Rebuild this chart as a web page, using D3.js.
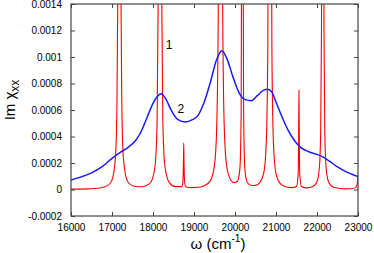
<!DOCTYPE html>
<html>
<head>
<meta charset="utf-8">
<script src="https://cdn.jsdelivr.net/npm/d3@7"></script>
<style>
  body { margin: 0; background: #fff; }
  text { font-family: "Liberation Sans", Arial, sans-serif; }
</style>
</head>
<body>
<script>

// curve 1 (red): sharp lines, [omega, Im chi]
const redX = [16000, 16400, 16700, 16900, 17000, 17080, 17120, 17140, 17160, 17180, 17200, 17220, 17240, 17280, 17380, 17500, 17650, 17800, 17950,
  18050, 18100, 18130, 18150, 18170, 18190, 18210, 18240, 18290, 18400, 18550, 18700, 18730, 18745, 18750, 18755, 18770, 18800, 18950,
  19100, 19250, 19400, 19500, 19550, 19590, 19610, 19646, 19680, 19700, 19740, 19800, 19900, 19980, 20060, 20120, 20150, 20165, 20180,
  20195, 20210, 20240, 20300, 20400, 20500, 20600, 20700, 20760, 20800, 20820, 20850, 20880, 20900, 20940, 21000, 21100, 21250, 21400,
  21500, 21540, 21550, 21560, 21570, 21580, 21620, 21750, 21900, 22000, 22060, 22090, 22110, 22125, 22140, 22155, 22170, 22190, 22220,
  22280, 22400, 22550, 22700, 22850, 22940, 22980, 23000];
const redY = [0.000003, 0.000005, 0.000011, 0.000031, 0.000071, 0.000226, 0.00062, 0.0014, 0.0056, 0.03, 0.0056, 0.0014, 0.00062, 0.000228, 0.00006, 0.000029, 0.000021, 0.000025, 0.000057,
  0.000177, 0.00051, 0.00156, 0.00625, 0.03, 0.00625, 0.00156, 0.00051, 0.000177, 0.00005, 0.000022, 0.000022, 0.000058, 0.00025, 0.00035, 0.00024, 0.00006, 0.000021, 0.000014,
  0.000017, 0.000029, 0.000067, 0.000186, 0.00043, 0.00125, 0.003, 0.03, 0.0034, 0.00134, 0.00045, 0.00017, 0.00007, 0.000051, 0.000062, 0.000161, 0.00058, 0.0022, 0.02,
  0.0022, 0.00058, 0.000157, 0.000053, 0.00003, 0.000031, 0.00005, 0.000123, 0.00033, 0.00105, 0.0029, 0.03, 0.0029, 0.00105, 0.00033, 0.000119, 0.000046, 0.000019, 0.000014,
  0.000023, 0.000115, 0.00031, 0.00075, 0.00031, 0.000115, 0.000023, 0.000012, 0.000022, 0.000058, 0.000175, 0.00044, 0.00122, 0.0049, 0.02, 0.0049, 0.00122, 0.00044, 0.000175,
  0.000058, 0.000017, 0.000008, 0.000005, 0.000006, 0.000014, 0.000041, 0.00011];

// curve 2 (blue): broad bands
const blueX = [16000, 16250, 16500, 16750, 17000, 17200, 17400, 17550, 17700, 17850, 18000, 18100, 18200, 18300, 18450, 18600, 18800, 18950,
  19100, 19250, 19400, 19550, 19680, 19800, 19950, 20100, 20250, 20400, 20550, 20700, 20800, 20900, 21000, 21150, 21300, 21450, 21600,
  21800, 22000, 22150, 22300, 22500, 22700, 22850, 23000];
const blueY = [0.000072, 0.000095, 0.000125, 0.00017, 0.000235, 0.00028, 0.00032, 0.00036, 0.00043, 0.00054, 0.00065, 0.0007, 0.000722, 0.00069, 0.000595, 0.00053, 0.00051, 0.000525,
  0.00056, 0.00066, 0.00081, 0.00098, 0.001048, 0.00099, 0.00085, 0.00073, 0.000678, 0.00067, 0.00071, 0.00075, 0.000757, 0.000735, 0.00066, 0.000545, 0.000445, 0.00037, 0.000318,
  0.000285, 0.000265, 0.000245, 0.000215, 0.00017, 0.000135, 0.000115, 0.000097];

const xTicks = [16000, 17000, 18000, 19000, 20000, 21000, 22000, 23000];
const yTicks = [-0.0002, 0, 0.0002, 0.0004, 0.0006, 0.0008, 0.001, 0.0012, 0.0014];
const yTickLabels = ['-0.0002', '0', '0.0002', '0.0004', '0.0006', '0.0008', '0.001', '0.0012', '0.0014'];

const W = 374, H = 253;
const margin = {top: 4, right: 16, bottom: 37, left: 71};
const width = W - margin.left - margin.right;
const height = H - margin.top - margin.bottom;

const svg = d3.select('body').append('svg')
  .attr('width', W)
  .attr('height', H);

const x = d3.scaleLinear().domain([16000, 23000]).range([0, width]);
const y = d3.scaleLinear().domain([-0.0002, 0.0014]).range([height, 0]);

const g = svg.append('g')
  .attr('transform', 'translate(' + margin.left + ',' + margin.top + ')');

svg.append('defs').append('clipPath').attr('id', 'clip')
  .append('rect').attr('width', width).attr('height', height);

const line = d3.line()
  .x(d => x(d[0]))
  .y(d => y(d[1]))
  .curve(d3.curveMonotoneX);

const plot = g.append('g').attr('clip-path', 'url(#clip)');

plot.append('path')
  .datum(d3.zip(redX, redY))
  .attr('fill', 'none')
  .attr('stroke', '#ff0000')
  .attr('stroke-width', 1.1)
  .attr('d', line);

plot.append('path')
  .datum(d3.zip(blueX, blueY))
  .attr('fill', 'none')
  .attr('stroke', '#1a1aff')
  .attr('stroke-width', 1.5)
  .attr('d', line);

// axes, ticks pointing inward on all four sides
const tickLen = 4;
const axisColor = '#444';

g.append('g')
  .attr('transform', 'translate(0,' + height + ')')
  .call(d3.axisBottom(x).tickValues(xTicks).tickSize(-tickLen).tickPadding(8).tickFormat(d3.format('d')))
  .call(a => a.select('.domain').remove());

g.append('g')
  .call(d3.axisTop(x).tickValues(xTicks).tickSize(-tickLen).tickFormat(''))
  .call(a => a.select('.domain').remove());

g.append('g')
  .call(d3.axisLeft(y).tickValues(yTicks).tickSize(-tickLen).tickPadding(9)
    .tickFormat((d, i) => yTickLabels[i]))
  .call(a => a.select('.domain').remove());

g.append('g')
  .attr('transform', 'translate(' + width + ',0)')
  .call(d3.axisRight(y).tickValues(yTicks).tickSize(-tickLen).tickFormat(''))
  .call(a => a.select('.domain').remove());

g.selectAll('.tick line').attr('stroke', axisColor).attr('stroke-width', 1);
g.selectAll('.tick text')
  .attr('fill', '#000')
  .style('font-size', '10px')
  .style('font-family', '"Liberation Sans", Arial, sans-serif');

g.append('rect')
  .attr('width', width)
  .attr('height', height)
  .attr('fill', 'none')
  .attr('stroke', axisColor)
  .attr('stroke-width', 1.2);

// curve labels
g.append('text')
  .attr('x', x(18390))
  .attr('y', y(0.00106))
  .attr('text-anchor', 'middle')
  .style('font-size', '12px')
  .text('1');

g.append('text')
  .attr('x', x(18680))
  .attr('y', y(0.000577))
  .attr('text-anchor', 'middle')
  .style('font-size', '12px')
  .text('2');

// axis titles
const xt = svg.append('text')
  .attr('x', 218)
  .attr('y', 249)
  .attr('text-anchor', 'middle')
  .style('font-size', '15px');
xt.append('tspan').text('ω (cm');
xt.append('tspan').attr('dy', -7).style('font-size', '10px').text('-1');
xt.append('tspan').attr('dy', 7).text(')');

const yt = svg.append('text')
  .attr('transform', 'translate(15,100) rotate(-90)')
  .attr('text-anchor', 'middle')
  .style('font-size', '15px');
yt.append('tspan').text('Im χ');
yt.append('tspan').attr('dy', 4).style('font-size', '12px').text('xx');

</script>
</body>
</html>
